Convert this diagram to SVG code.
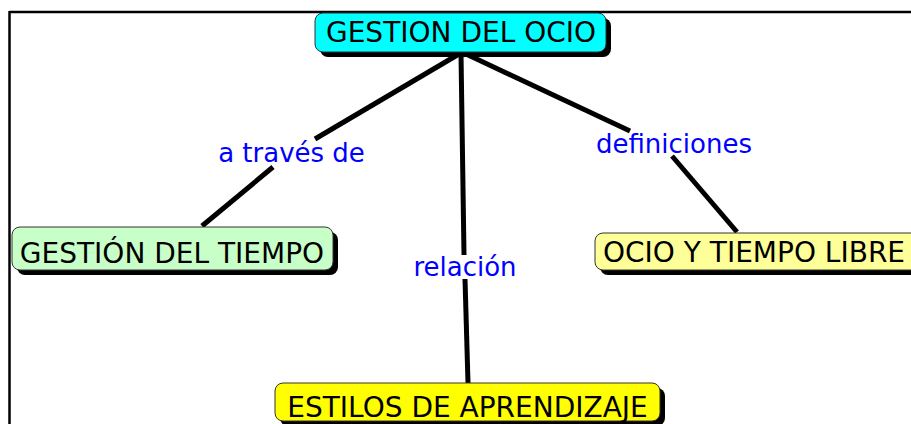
<svg xmlns="http://www.w3.org/2000/svg" width="911" height="424" viewBox="0 0 911 424">
<style>
.shadow{fill:#000}
.box{stroke:#333;stroke-width:1}
.nt{font-family:"DejaVu Sans",Verdana,sans-serif;font-size:28px;fill:#000}
.lt{font-family:"DejaVu Sans",Verdana,sans-serif;font-size:26px;fill:#0000FF}
.conn line{stroke:#000;stroke-width:5;stroke-linecap:butt}
</style>
<rect width="911" height="424" fill="#fff"/>
<g id="frame">
<line x1="9.5" y1="12" x2="911" y2="12" stroke="#000" stroke-width="2.5"/>
<line x1="9.5" y1="11" x2="9.5" y2="424" stroke="#000" stroke-width="2.5"/>
</g>
<g id="connectors" class="conn">
<line x1="459" y1="54" x2="315" y2="139"/>
<line x1="273" y1="167" x2="202" y2="226"/>
<line x1="461" y1="54" x2="464" y2="255"/>
<line x1="465" y1="279" x2="468" y2="383"/>
<line x1="466" y1="54" x2="630" y2="131"/>
<line x1="672" y1="156" x2="737" y2="232"/>
</g>
<g id="label-a-traves-de"><text class="lt" x="291.5" y="162" text-anchor="middle" font-size="27">a través de</text></g>
<g id="label-relacion"><text class="lt" x="465" y="276" text-anchor="middle">relación</text></g>
<g id="label-definiciones"><text class="lt" x="674" y="153" text-anchor="middle">definiciones</text></g>
<g id="node-gestion-del-ocio">
<rect class="shadow" x="320" y="18" width="291" height="39" rx="8"/>
<rect class="box" x="315" y="13" width="291" height="39" rx="8" fill="#00FFFF"/>
<text class="nt" x="461" y="42" text-anchor="middle">GESTION DEL OCIO</text>
</g>
<g id="node-gestion-del-tiempo">
<rect class="shadow" x="17" y="232" width="321" height="43" rx="8"/>
<rect class="box" x="12" y="227" width="321" height="43" rx="8" fill="#C8FFC8"/>
<text class="nt" x="172" y="263" text-anchor="middle">GESTIÓN DEL TIEMPO</text>
</g>
<g id="node-ocio-y-tiempo-libre">
<rect class="shadow" x="600" y="238" width="330" height="37" rx="8"/>
<rect class="box" x="595" y="233" width="330" height="37" rx="8" fill="#FFFF99"/>
<text class="nt" x="603" y="262">OCIO Y TIEMPO LIBRE</text>
</g>
<g id="node-estilos-de-aprendizaje">
<rect class="shadow" x="280" y="388" width="385" height="38" rx="8"/>
<rect class="box" x="275" y="383" width="385" height="38" rx="8" fill="#FFFF00"/>
<text class="nt" x="467.5" y="417" text-anchor="middle">ESTILOS DE APRENDIZAJE</text>
</g>
</svg>
